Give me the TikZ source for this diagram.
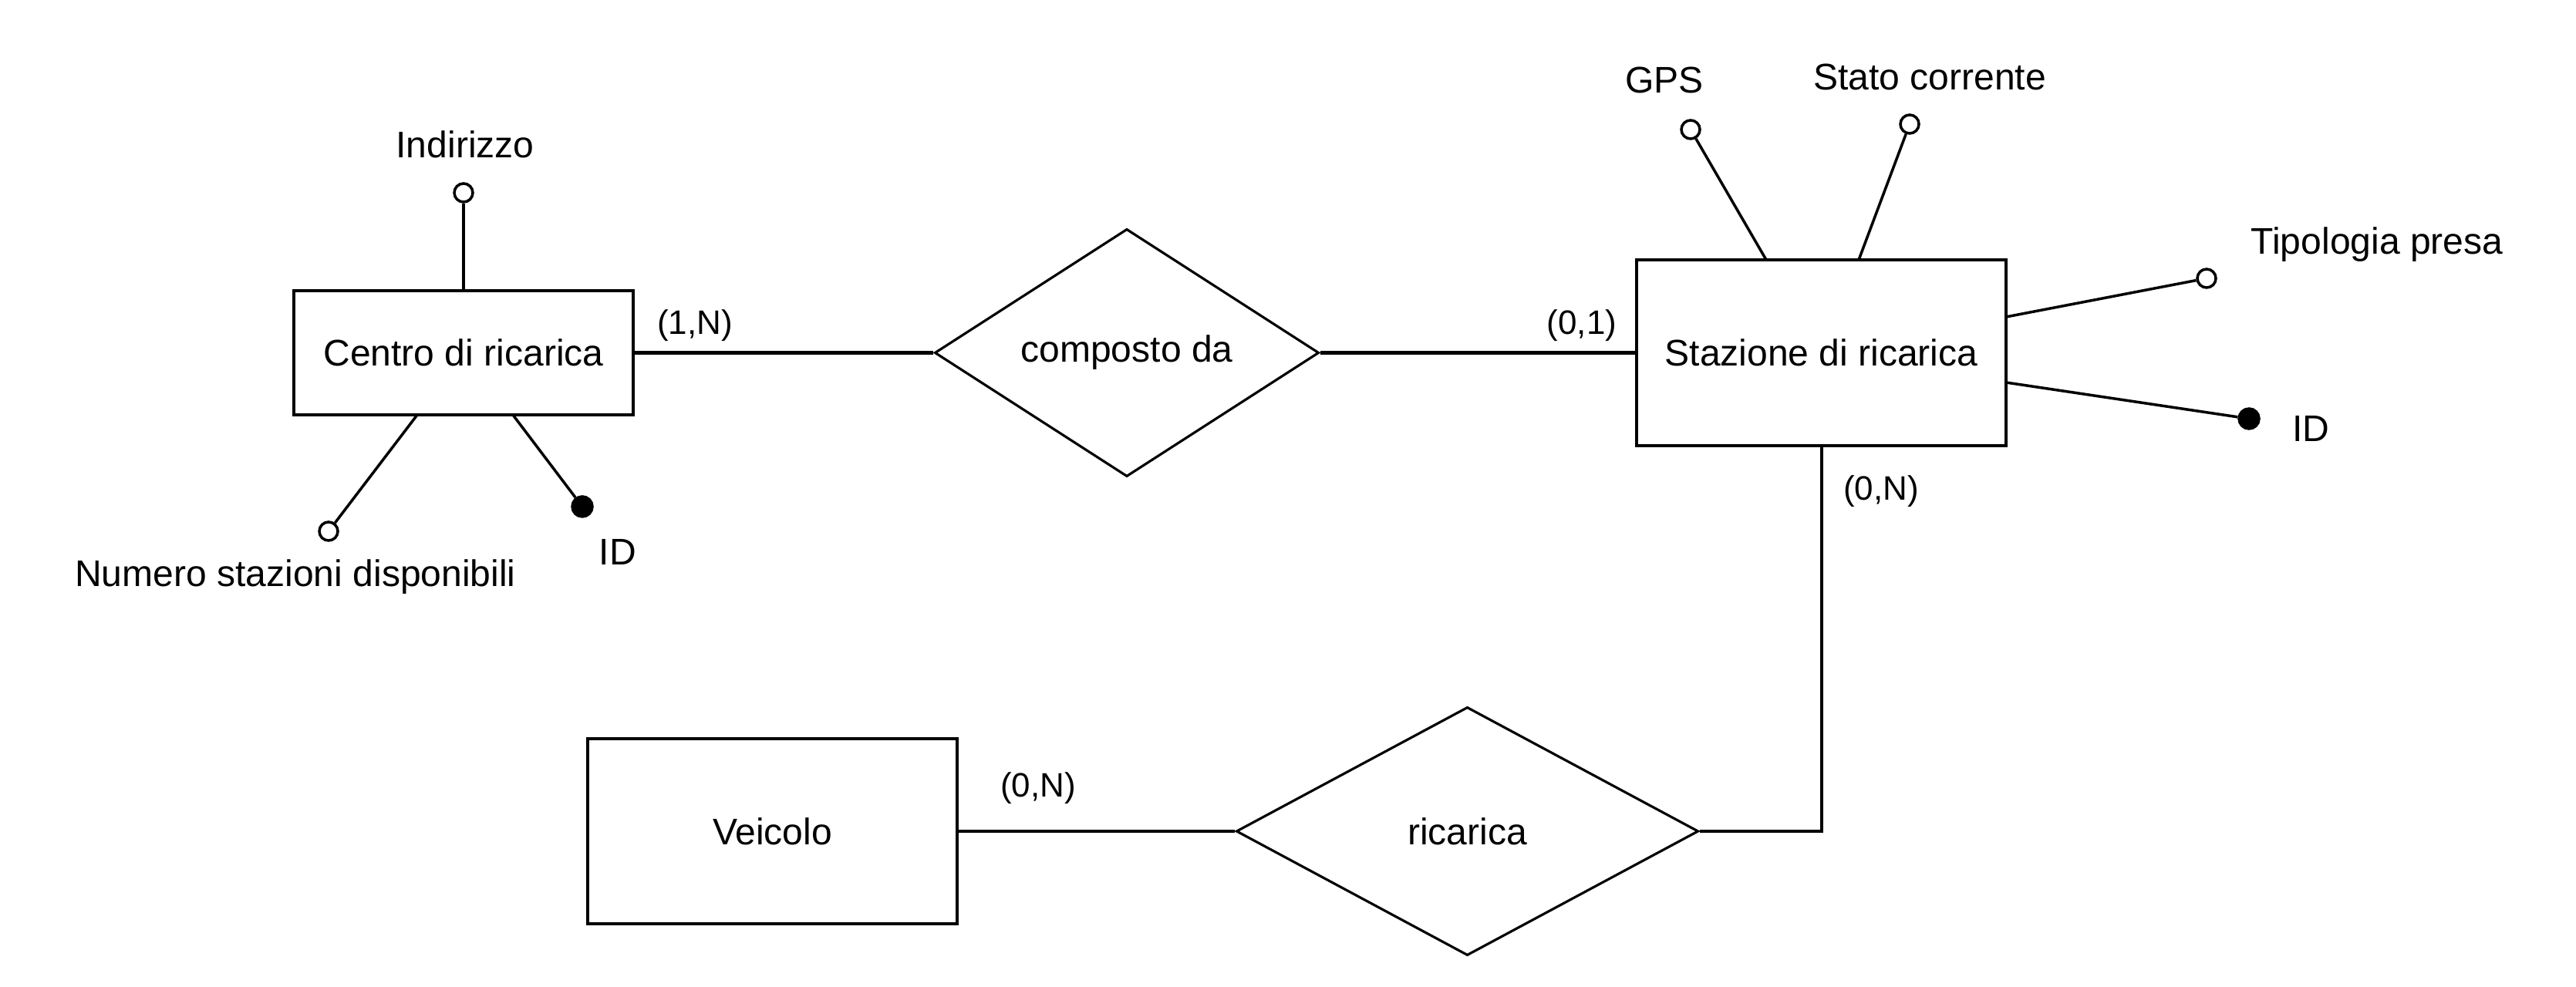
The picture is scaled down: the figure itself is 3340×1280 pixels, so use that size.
\documentclass[tikz,border=0pt]{standalone}
\usepackage{fontspec}
\setmainfont{Liberation Sans}
\usetikzlibrary{shapes.geometric}
\tikzset{
  entity/.style={draw, line width=1.15pt, rectangle, inner sep=0pt, font=\fontsize{13.66}{16}\selectfont},
  relation/.style={draw, line width=0.9pt, diamond, inner sep=0pt, font=\fontsize{13.66}{16}\selectfont},
  attr/.style={draw, circle, line width=1pt, fill=white, minimum size=0.24cm, inner sep=0pt},
  keyattr/.style={draw, circle, line width=1pt, fill=black, minimum size=0.26cm, inner sep=0pt},
  lbl/.style={inner sep=0pt, font=\fontsize{13.66}{16}\selectfont},
  card/.style={inner sep=0pt, font=\fontsize{12.5}{15}\selectfont},
  conn/.style={line width=1.15pt},
  aline/.style={line width=1pt}
}
\begin{document}
\begin{tikzpicture}[x=0.01cm,y=-0.01cm]
\useasboundingbox (0,0) rectangle (3340,1280);
% entities
\node[entity, minimum width=4.40cm, minimum height=1.61cm] (centro) at (601,457.5) {Centro di ricarica};
\node[entity, minimum width=4.79cm, minimum height=2.41cm] (stazione) at (2361.5,457.5) {Stazione di ricarica};
\node[entity, minimum width=4.79cm, minimum height=2.40cm] (veicolo) at (1001.5,1078) {Veicolo};
% relations
\node[relation, minimum width=4.98cm, minimum height=3.21cm] (composto) at (1461,457.5) {composto da};
\node[relation, minimum width=5.99cm, minimum height=3.22cm] (ricarica) at (1902.5,1078) {ricarica};
% connectors
\draw[conn] (centro.east) -- (composto.west);
\draw[conn] (composto.east) -- (stazione.west);
\draw[conn] (veicolo.east) -- (ricarica.west);
\draw[conn] (stazione.south) |- (ricarica.east);
% cardinalities
\node[card] (c1) at (901,422) {(1,N)};
\node[card] (c2) at (2051,422) {(0,1)};
\node[card] (c3) at (2439,637) {(0,N)};
\node[card] (c4) at (1346,1022) {(0,N)};
% attributes of Centro di ricarica
\node[attr] (indC) at (601,250) {};
\node[lbl] (indL) at (603,187) {Indirizzo};
\draw[aline] (centro.north) -- (indC);
\coordinate (pNum) at (541,538);
\node[attr] (numC) at (426,689) {};
\node[lbl] (numL) at (383,748) {Numero stazioni disponibili};
\draw[aline] (pNum) -- (numC);
\coordinate (pId1) at (665,538);
\node[keyattr] (id1C) at (755,657) {};
\node[lbl] (id1L) at (801,716) {ID};
\draw[aline] (pId1) -- (id1C);
% attributes of Stazione di ricarica
\coordinate (pGps) at (2290,337);
\node[attr] (gpsC) at (2192,168) {};
\node[lbl] (gpsL) at (2158,104) {GPS};
\draw[aline] (pGps) -- (gpsC);
\coordinate (pStato) at (2410,337);
\node[attr] (statoC) at (2476,161) {};
\node[lbl] (statoL) at (2502,100) {Stato corrente};
\draw[aline] (pStato) -- (statoC);
\coordinate (pTip) at (2601,411);
\node[attr] (tipC) at (2861,361) {};
\node[lbl] (tipL) at (3082,317) {Tipologia presa};
\draw[aline] (pTip) -- (tipC);
\coordinate (pId2) at (2601,496);
\node[keyattr] (id2C) at (2916,543) {};
\node[lbl] (id2L) at (2996,556) {ID};
\draw[aline] (pId2) -- (id2C);
\end{tikzpicture}
\end{document}
